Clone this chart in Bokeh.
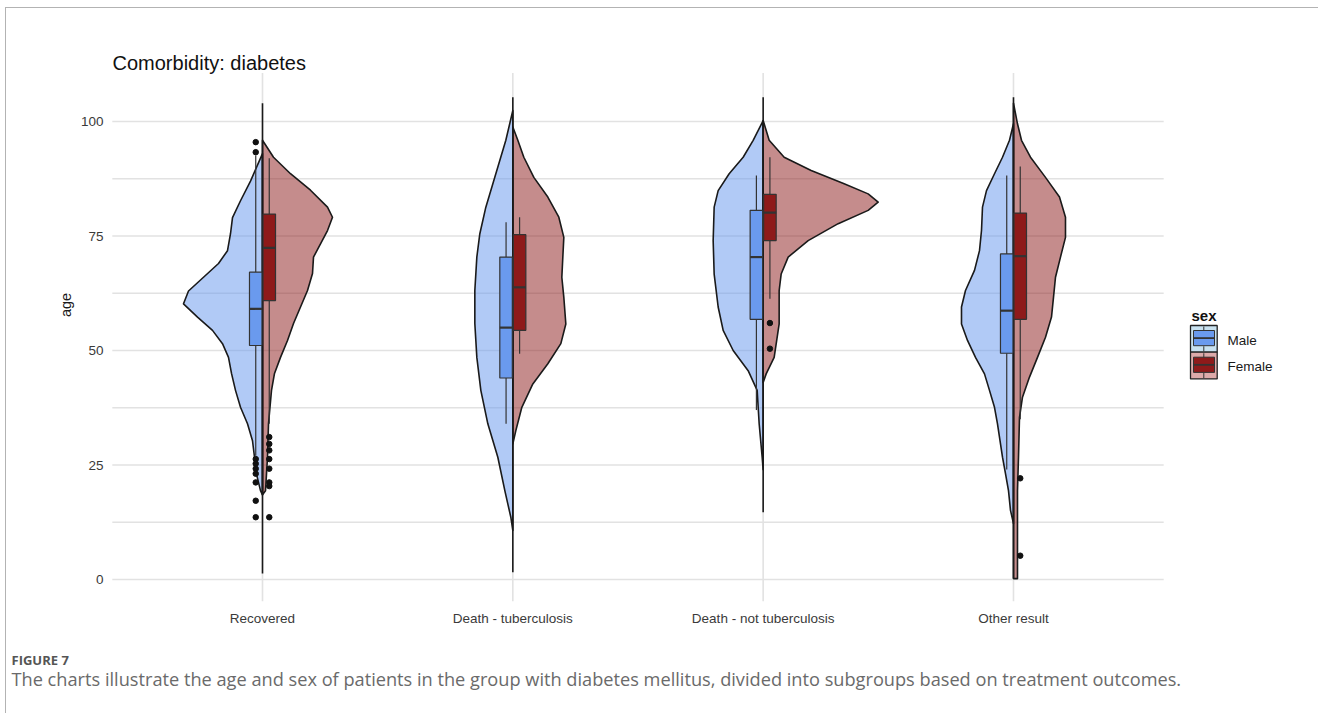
from bokeh.plotting import figure
from bokeh.layouts import column
from bokeh.models import FixedTicker, Label, BoxAnnotation
from bokeh.embed import file_html
from bokeh.resources import INLINE

# ---------------- data ----------------
categories = ["Recovered", "Death - tuberculosis", "Death - not tuberculosis", "Other result"]
sexes = ["Male", "Female"]

# half-violin outlines: ages (top -> bottom) and half-widths (density, arbitrary units)
rec_m_age = [93.0, 87.0, 82.7, 79.0, 75.5, 71.8, 69.0, 66.0, 63.0, 60.2, 57.3, 54.4, 51.5, 48.5, 45.0, 41.3, 37.6, 34.0, 30.3, 26.7, 23.0, 19.4, 18.5]
rec_m_den = [0, 12, 22, 30, 32, 35, 44, 59, 74, 79, 65, 50, 40, 34, 31, 27, 22, 15, 10, 8, 6, 2, 0]
rec_f_age = [95.9, 92.2, 88.6, 85.0, 81.3, 79.1, 76.2, 73.3, 70.4, 66.8, 63.1, 59.5, 55.9, 52.2, 48.5, 45.0, 41.3, 34.0, 26.7, 19.4, 18.5]
rec_f_den = [0, 11, 28, 48, 65, 70, 65, 58, 51, 50, 45, 38, 31, 25, 18, 12, 9, 6, 5, 3, 0]

dtb_m_age = [102.4, 95.9, 88.6, 81.3, 75.5, 70.4, 63.1, 55.9, 48.5, 41.3, 34.0, 26.7, 19.4, 13.6, 10.7]
dtb_m_den = [0, 7, 17, 27, 33, 36, 38, 38, 36, 32, 25, 15, 8, 2, 0]
dtb_f_age = [98.8, 95.9, 92.2, 87.8, 83.5, 79.1, 74.7, 70.4, 66.0, 61.6, 55.8, 51.5, 47.1, 42.7, 37.6, 32.5, 29.6]
dtb_f_den = [0, 5, 11, 21, 35, 46, 51, 50, 49, 51, 53, 48, 35, 20, 9, 3, 0]

dnt_m_age = [100.2, 95.9, 92.2, 88.6, 84.9, 81.3, 74.0, 66.7, 59.5, 54.4, 50.0, 45.6, 41.3, 34.0, 26.7, 24.0]
dnt_m_den = [0, 10, 20, 34, 45, 49, 50, 49, 45, 40, 30, 15, 6, 4, 1, 0]
dnt_f_age = [100.2, 95.9, 92.2, 89.3, 86.4, 84.2, 82.4, 80.6, 77.7, 74.0, 70.4, 66.7, 63.1, 55.8, 48.5, 44.9, 43.0]
dnt_f_den = [0, 6, 21, 48, 81, 105, 115, 105, 75, 45, 25, 18, 16, 16, 11, 3, 0]

oth_m_age = [99.5, 95.9, 92.2, 88.6, 84.9, 81.3, 76.2, 71.8, 67.5, 63.1, 59.5, 55.8, 52.2, 48.5, 44.9, 41.3, 37.6, 34.0, 26.7, 23.1, 19.4, 15.1, 12.2]
oth_m_den = [0, 4, 11, 19, 27, 31, 32, 34, 39, 48, 52, 52, 46, 38, 29, 24, 19, 16, 11, 8, 5, 3, 0]
oth_f_age = [104.0, 99.5, 95.9, 92.2, 87.8, 83.5, 79.1, 74.7, 70.4, 66.0, 61.6, 57.3, 52.9, 48.5, 44.2, 39.8, 35.4, 26.7, 19.4, 12.2, 0.2, 0.2]
oth_f_den = [0, 4, 8, 17, 32, 46, 52, 52, 47, 42, 40, 38, 32, 24, 16, 9, 6, 5, 4, 4, 4, 0]

male_violin_age = [rec_m_age, dtb_m_age, dnt_m_age, oth_m_age]
male_violin_den = [rec_m_den, dtb_m_den, dnt_m_den, oth_m_den]
female_violin_age = [rec_f_age, dtb_f_age, dnt_f_age, oth_f_age]
female_violin_den = [rec_f_den, dtb_f_den, dnt_f_den, oth_f_den]

# untrimmed violin tails (thin line along the centre)
tail_low = [1.3, 1.6, 14.7, 0.2]
tail_high = [104.0, 105.3, 105.3, 105.3]

# box-plot statistics
male_q1 = [51.1, 44.0, 56.8, 49.4]
male_med = [59.1, 55.0, 70.4, 58.7]
male_q3 = [67.1, 70.4, 80.6, 71.1]
male_lo = [27.0, 34.0, 37.0, 24.0]
male_hi = [92.6, 78.0, 88.2, 88.2]
female_q1 = [60.9, 54.4, 74.0, 56.8]
female_med = [72.4, 63.8, 80.1, 70.6]
female_q3 = [79.8, 75.3, 84.1, 80.0]
female_lo = [34.0, 49.3, 61.3, 35.0]
female_hi = [92.0, 79.1, 92.2, 90.2]

# outliers (category index, age)
male_out_cat = [0, 0, 0, 0, 0, 0, 0, 0, 0]
male_out_age = [95.5, 93.3, 26.3, 25.3, 24.2, 23.1, 21.2, 17.2, 13.6]
female_out_cat = [0, 0, 0, 0, 0, 0, 0, 0, 2, 2, 3, 3]
female_out_age = [31.1, 29.6, 28.2, 26.3, 24.2, 21.2, 20.4, 13.6, 56.0, 50.4, 22.1, 5.2]

y_ticks = [0, 25, 50, 75, 100]
y_minor = [12.5, 37.5, 62.5, 87.5]

title_text = "Comorbidity: diabetes"
y_title = "age"
legend_title = "sex"
fig_label = "FIGURE 7"
caption = ("The charts illustrate the age and sex of patients in the group with diabetes mellitus, "
           "divided into subgroups based on treatment outcomes.")

# ---------------- styling / geometry ----------------
MALE_V = "#6495ED"
FEMALE_V = "#8B1A1A"
MALE_BOX = "#6A9AEE"
FEMALE_BOX = "#8E1A1A"
EDGE = "#1a1a1a"
BOXEDGE = "#333333"
GRID = "#e2e2e2"
FONT = "Liberation Sans"

OX, OY = 6, 8                 # page position of the content (css margin + border)
W = 1312
H_MAIN, H_CAP = 632, 73
LEFT, BOTTOM = 104, 39
FRAME_BOTTOM = H_MAIN - BOTTOM
X0, X1 = 0.4, 4.6             # panel extent (data units)
PX_PER_X = 250.33
PX_PER_Y = 4.58
x_start = X0 - 0.0072
x_end = x_start + (W - LEFT) / PX_PER_X
y_start = -4.80
y_end = y_start + FRAME_BOTTOM / PX_PER_Y
Y_PANEL_TOP = 110.6
DEN_SCALE = 1 / PX_PER_X
BOX_OFF = 0.027
BOX_HALF = 0.025

p = figure(width=W, height=H_MAIN, output_backend="svg", toolbar_location=None,
           x_range=(x_start, x_end), y_range=(y_start, y_end),
           min_border_left=LEFT, min_border_right=0,
           min_border_top=0, min_border_bottom=BOTTOM)
p.outline_line_color = None
p.background_fill_color = "white"
p.border_fill_color = "white"
p.grid.grid_line_color = None

# axes
xt = FixedTicker(ticks=[1, 2, 3, 4])
yt = FixedTicker(ticks=y_ticks)
p.xaxis.ticker = xt
p.yaxis.ticker = yt
p.xaxis.major_label_overrides = {i + 1: c for i, c in enumerate(categories)}
for ax in (p.xaxis, p.yaxis):
    ax.axis_line_color = None
    ax.major_tick_line_color = None
    ax.minor_tick_line_color = None
    ax.major_tick_out = 0
    ax.major_tick_in = 0
    ax.major_label_text_font = FONT
    ax.major_label_text_font_size = "13.5px"
    ax.major_label_text_color = "#3a3a3a"
p.xaxis.major_label_standoff = 9
p.yaxis.major_label_standoff = 7
p.yaxis.axis_label = y_title
p.yaxis.axis_label_text_font = FONT
p.yaxis.axis_label_text_font_style = "normal"
p.yaxis.axis_label_text_font_size = "14.5px"
p.yaxis.axis_label_text_color = "#1a1a1a"
p.yaxis.axis_label_standoff = 4

# grid lines limited to the panel
hy = y_ticks + y_minor
p.segment(x0=[X0] * len(hy), y0=hy, x1=[X1] * len(hy), y1=hy,
          line_color=GRID, line_width=1.6)
cats = [i + 1 for i in range(len(categories))]
p.segment(x0=cats, y0=[y_start] * 4, x1=cats, y1=[Y_PANEL_TOP] * 4,
          line_color=GRID, line_width=1.6)

# violins
def half(ci, ages, dens, side):
    c = ci + 1
    xs = [c + side * d * DEN_SCALE for d in dens] + [c, c]
    ys = list(ages) + [ages[-1], ages[0]]
    return xs, ys

mx, my, fxs, fys = [], [], [], []
for i in range(len(categories)):
    a, b = half(i, male_violin_age[i], male_violin_den[i], -1)
    mx.append(a); my.append(b)
    a, b = half(i, female_violin_age[i], female_violin_den[i], 1)
    fxs.append(a); fys.append(b)

p.patches(mx, my, fill_color=MALE_V, fill_alpha=0.5, line_color=EDGE, line_width=1.6,
          line_join="round")
p.patches(fxs, fys, fill_color=FEMALE_V, fill_alpha=0.5, line_color=EDGE, line_width=1.6,
          line_join="round")
p.segment(x0=cats, y0=tail_low, x1=cats, y1=tail_high, line_color=EDGE, line_width=1.6)

# box plots
def boxes(off, q1, med, q3, lo, hi, fill):
    xc = [c + off for c in cats]
    p.segment(x0=xc, y0=q3, x1=xc, y1=hi, line_color=BOXEDGE, line_width=1.2)
    p.segment(x0=xc, y0=q1, x1=xc, y1=lo, line_color=BOXEDGE, line_width=1.2)
    p.quad(left=[x - BOX_HALF for x in xc], right=[x + BOX_HALF for x in xc],
           bottom=q1, top=q3, fill_color=fill, line_color=BOXEDGE, line_width=1.2)
    p.segment(x0=[x - BOX_HALF for x in xc], y0=med, x1=[x + BOX_HALF for x in xc], y1=med,
              line_color=BOXEDGE, line_width=2.2)

boxes(-BOX_OFF, male_q1, male_med, male_q3, male_lo, male_hi, MALE_BOX)
boxes(BOX_OFF, female_q1, female_med, female_q3, female_lo, female_hi, FEMALE_BOX)

p.scatter(x=[c + 1 - BOX_OFF for c in male_out_cat], y=male_out_age, size=5.5, color="#111111")
p.scatter(x=[c + 1 + BOX_OFF for c in female_out_cat], y=female_out_age, size=5.5, color="#111111")

# ---------------- annotations (inside the frame) ----------------
def sx(page_x):
    return page_x - OX - LEFT

def sy(page_y):
    return FRAME_BOTTOM - (page_y - OY)

def lab(fig, text, x, y, size, color="#1a1a1a", font=FONT, style="normal",
        baseline="alphabetic", align="left"):
    fig.add_layout(Label(x=x, y=y, x_units="screen", y_units="screen",
                         text=text, text_font=font, text_font_size=size,
                         text_color=color, text_font_style=style,
                         text_baseline=baseline, text_align=align))

def box(l, r, t, b, fill, line=None, lw=1.0):
    p.add_layout(BoxAnnotation(left=sx(l), right=sx(r), top=sy(t), bottom=sy(b),
                               left_units="screen", right_units="screen",
                               top_units="screen", bottom_units="screen",
                               fill_color=fill, fill_alpha=1.0,
                               line_color=line, line_width=lw, line_alpha=1.0))

lab(p, title_text, sx(112), sy(62.5), "20px", color="#111111")

# legend
lab(p, legend_title, sx(1191), sy(315), "15px", color="#111111", style="bold")
key_bg = ["#c9e2f0", "#deaaaa"]
key_box = [MALE_BOX, FEMALE_BOX]
for k in range(2):
    t = 325 + k * 26.7
    b = t + 26.7
    box(1190, 1216.7, t, b, key_bg[k], line="#222222", lw=1.3)
    box(1202.8, 1203.8, t + 1, t + 5.5, "#333333")
    box(1202.8, 1203.8, b - 6, b - 1, "#333333")
    box(1193, 1214, t + 5, b - 6.5, key_box[k], line="#333333", lw=1.0)
    mid = (t + 5 + b - 6.5) / 2
    box(1193, 1214, mid - 0.9, mid + 0.9, "#333333")
    lab(p, sexes[k], sx(1227), sy(t + 14.5), "13.5px", color="#1a1a1a", baseline="middle")

# ---------------- caption strip ----------------
cap = figure(width=W, height=H_CAP, output_backend="svg", toolbar_location=None,
             x_range=(0, 1), y_range=(0, 1), x_axis_location=None, y_axis_location=None,
             min_border=0, min_border_left=0, min_border_right=0,
             min_border_top=0, min_border_bottom=0)
cap.outline_line_color = None
cap.border_fill_color = "white"
cap.background_fill_color = "white"
cap.grid.grid_line_color = None
cap.grid.visible = False
for fig in (p, cap):
    if "frame_align" in fig.properties():
        fig.frame_align = False
CAP_TOP = OY + H_MAIN
CAP_X = 11
lab(cap, fig_label, CAP_X - OX, H_CAP - (659.5 - CAP_TOP), "13px", color="#555555",
    font="Open Sans", style="bold")
lab(cap, caption, CAP_X - OX, H_CAP - (678 - CAP_TOP), "18.2px", color="#6a6a6a",
    font="Open Sans")

layout = column(p, cap, spacing=0,
                styles={"margin-left": "5px", "margin-top": "7px",
                        "border-left": "1px solid #b3b3b3",
                        "border-top": "1px solid #b3b3b3"})

open("out.html", "w").write(file_html(layout, INLINE))
